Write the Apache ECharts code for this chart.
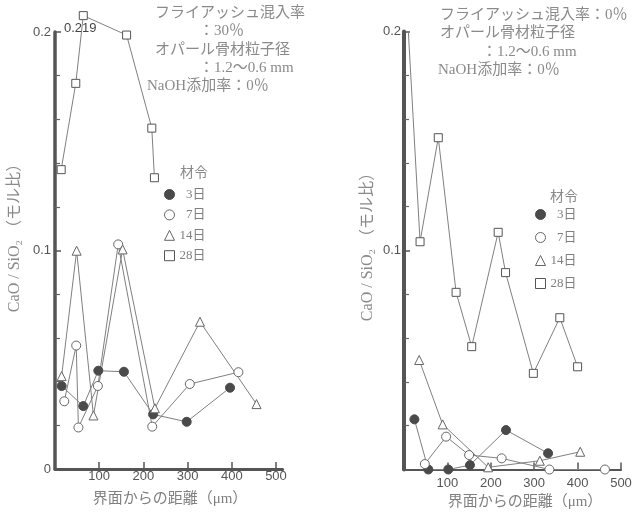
<!DOCTYPE html>
<html><head><meta charset="utf-8">
<script src="https://cdn.jsdelivr.net/npm/echarts@6/dist/echarts.min.js"></script>
<style>html,body{margin:0;padding:0;background:#fff}#c{width:644px;height:515px}</style>
</head><body><div id="c"></div>
<script>
// ---- data (distance from interface in µm, CaO/SiO2 molar ratio) ----
const ageNames = ['3日', '7日', '14日', '28日'];
const xTickValues = [100, 200, 300, 400, 500];

// Left panel: fly ash 30 %
const L3_x  = [15, 64, 98, 156, 222, 298, 396];
const L3_y  = [0.038, 0.0288, 0.045, 0.0445, 0.025, 0.0216, 0.0372];
const L7_x  = [21, 48, 53, 97, 143, 220, 305, 415];
const L7_y  = [0.031, 0.0565, 0.019, 0.038, 0.1028, 0.0194, 0.0389, 0.0443];
const L14_x = [15, 49, 87, 153, 226, 328, 456];
const L14_y = [0.0425, 0.0999, 0.0245, 0.1005, 0.0278, 0.0674, 0.0297];
const L28_x = [14, 47, 64, 162, 219, 225];
const L28_y = [0.137, 0.1765, 0.2075, 0.1986, 0.156, 0.1333];
const L28_peakIndex = 2;
const L28_peakLabel = '0.219';

// Right panel: fly ash 0 %
const R3_x  = [24, 56, 102, 152, 235, 332];
const R3_y  = [0.0229, 0.0, 0.0, 0.002, 0.018, 0.0074];
const R7_x  = [48, 97, 150, 225, 335, 463];
const R7_y  = [0.0025, 0.015, 0.0066, 0.0051, 0.0, 0.0];
const R14_x = [35, 89, 194, 313, 406];
const R14_y = [0.050, 0.0206, 0.001, 0.004, 0.0081];
const R28_x = [10, 37, 79, 120, 156, 217, 234, 298, 359, 400];
const R28_y = [0.200, 0.104, 0.1515, 0.0809, 0.0561, 0.1083, 0.0899, 0.0439, 0.0693, 0.0469];

// ---- styles ----
const markStyle = {
  '3日':  {symbol: 'circle',   size: 9, item: {color: '#4a4a4a', borderColor: '#4a4a4a', borderWidth: 1}},
  '7日':  {symbol: 'circle',   size: 9, item: {color: '#ffffff', borderColor: '#666', borderWidth: 1}},
  '14日': {symbol: 'triangle', size: 9, item: {color: '#ffffff', borderColor: '#666', borderWidth: 1}},
  '28日': {symbol: 'rect',     size: 8, item: {color: '#ffffff', borderColor: '#555', borderWidth: 1}}
};
const zip = (xs, ys) => xs.map((x, i) => [x, ys[i]]);

function mkSeries(name, xs, ys, idx, extra) {
  const st = markStyle[name];
  return Object.assign({
    type: 'line', name: name, xAxisIndex: idx, yAxisIndex: idx,
    data: zip(xs, ys), symbol: st.symbol, symbolSize: st.size,
    showAllSymbol: true, clip: false,
    itemStyle: st.item,
    lineStyle: {color: '#808080', width: 1},
    emphasis: {disabled: true}
  }, extra || {});
}

const series = [
  mkSeries('3日', L3_x, L3_y, 0),
  mkSeries('7日', L7_x, L7_y, 0),
  mkSeries('14日', L14_x, L14_y, 0),
  mkSeries('28日', L28_x, L28_y, 0, {
    label: {show: true, position: 'bottom', distance: 2, offset: [-3, 0],
      formatter: p => p.dataIndex === L28_peakIndex ? L28_peakLabel : '',
      fontSize: 13, color: '#444', fontFamily: 'Liberation Sans'}
  }),
  mkSeries('3日', R3_x, R3_y, 1),
  mkSeries('7日', R7_x, R7_y, 1),
  mkSeries('14日', R14_x, R14_y, 1),
  mkSeries('28日', R28_x, R28_y, 1, {
    symbol: (v, p) => p.dataIndex === 0 ? 'none' : 'rect'
  })
];

function xAx(idx, max, lineW, margin) {
  return {
    type: 'value', gridIndex: idx, min: 0, max: max,
    axisLine: {show: true, onZero: false, lineStyle: {color: '#555', width: lineW}},
    axisTick: {show: true, inside: true, length: 7, customValues: xTickValues, lineStyle: {color: '#555', width: 1.5}},
    axisLabel: {customValues: xTickValues, margin: margin, fontSize: 13, color: '#555', fontFamily: 'Liberation Sans'},
    splitLine: {show: false}
  };
}
function yAx(idx, lineW, margin, showZero) {
  return {
    type: 'value', gridIndex: idx, min: 0, max: 0.2, interval: 0.1,
    axisLine: {show: true, onZero: false, lineStyle: {color: '#555', width: lineW}},
    axisTick: {show: true, inside: true, length: 6, lineStyle: {color: '#555', width: 1.5}},
    minorTick: {show: true, splitNumber: 5, length: 5, lineStyle: {color: '#666', width: 1.2}},
    axisLabel: {margin: margin, fontSize: 13, color: '#555', fontFamily: 'Liberation Sans',
      formatter: v => v === 0 ? (showZero ? '0' : '') : v.toFixed(1)},
    splitLine: {show: false}, minorSplitLine: {show: false}
  };
}

function legendData() {
  return ageNames.map(n => ({name: n, icon: markStyle[n].symbol, itemStyle: markStyle[n].item}));
}
const legendText = {fontSize: 13, color: '#808080', fontFamily: 'Liberation Serif, Noto Sans CJK JP', lineHeight: 12};
const legendFmt = n => n.length < 3 ? '\u2007' + n : n;

const txtFont = 'Liberation Serif, Noto Sans CJK JP';
function txt(x, y, s, size, color, rot, align) {
  return {type: 'text', x: x, y: y, rotation: rot || 0, silent: true,
    style: {text: s, fontSize: size, fill: color || '#8a8a8a', fontFamily: txtFont,
      align: align || (rot ? 'center' : 'left'), verticalAlign: 'middle'}};
}

const option = {
  animation: false,
  backgroundColor: '#fff',
  grid: [
    {left: 55, top: 32, width: 227.6, bottom: 46},
    {left: 404, top: 31.5, width: 217, bottom: 45.5}
  ],
  xAxis: [xAx(0, 515, 3, 1), xAx(1, 500, 2, 7)],
  yAxis: [yAx(0, 3.5, 4, true), yAx(1, 4, 3, false)],
  legend: [
    {orient: 'vertical', left: 159, top: 183, itemWidth: 10, itemHeight: 10, itemGap: 7.4,
     data: legendData(), textStyle: legendText, formatter: legendFmt, selectedMode: false},
    {orient: 'vertical', left: 530, top: 203, itemWidth: 10, itemHeight: 10, itemGap: 10,
     data: legendData(), textStyle: legendText, formatter: legendFmt, selectedMode: false}
  ],
  graphic: [
    txt(155, 13, 'フライアッシュ混入率', 15),
    txt(199, 31, '：30％', 15),
    txt(155, 50, 'オパール骨材粒子径', 15),
    txt(199, 68, '：1.2～0.6 mm', 15),
    txt(147, 86, 'NaOH添加率：0％', 15),
    txt(180, 173, '材令', 14),
    txt(440, 15, 'フライアッシュ混入率：0％', 15),
    txt(440, 33, 'オパール骨材粒子径', 15),
    txt(482, 52, '：1.2～0.6 mm', 15),
    txt(438, 70, 'NaOH添加率：0％', 15),
    txt(550, 197, '材令', 14),
    txt(15, 234, 'CaO / SiO₂ （モル比）', 16, '#8a8a8a', Math.PI / 2),
    txt(368, 243, 'CaO / SiO₂ （モル比）', 16, '#8a8a8a', Math.PI / 2),
    txt(170, 499, '界面からの距離（μm）', 15, '#808080', 0, 'center'),
    txt(525, 502, '界面からの距離（μm）', 15, '#808080', 0, 'center')
  ],
  series: series
};

const chart = echarts.init(document.getElementById('c'), null, {renderer: 'canvas'});
chart.setOption(option);
</script>
</body></html>
